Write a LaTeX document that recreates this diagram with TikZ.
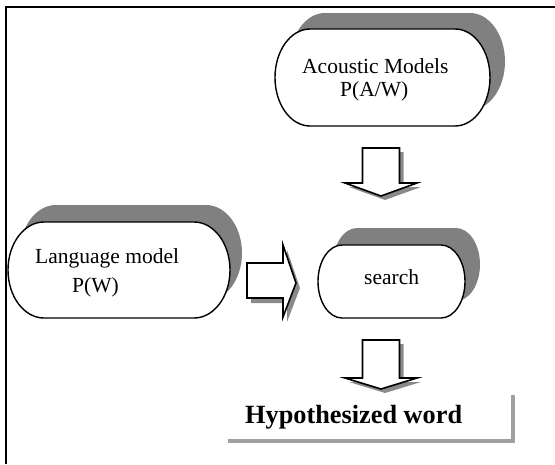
\documentclass[tikz,border=0pt]{standalone}
\usepackage{fontspec}
\setmainfont{Liberation Serif}
\definecolor{shadowgray}{HTML}{808080}
\definecolor{arrowshadow}{HTML}{8A8A8A}
\definecolor{boxgray}{HTML}{A0A0A0}
\tikzset{
  termline/.style={draw=black, line width=1.4, fill=white},
  blockline/.style={draw=black, line width=1.6, fill=white, line join=miter},
  labeltext/.style={inner sep=0, anchor=base west, font=\fontsize{21.5}{25}\selectfont},
  frameline/.style={line width=2},
}
% name, cx, cy(px down), w, h, rx, shadow dx, shadow dy(up)
\newcommand\termshape[8]{%
  \fill[shadowgray, shift={(#7,#8)}] ({#2-#4/2+#6},{-#3+#5/2}) -- ({#2+#4/2-#6},{-#3+#5/2})
     arc[start angle=90,end angle=-90,x radius=#6,y radius=#5/2] -- ({#2-#4/2+#6},{-#3-#5/2})
     arc[start angle=270,end angle=90,x radius=#6,y radius=#5/2] -- cycle;
  \path[termline] ({#2-#4/2+#6},{-#3+#5/2}) -- ({#2+#4/2-#6},{-#3+#5/2})
     arc[start angle=90,end angle=-90,x radius=#6,y radius=#5/2] -- ({#2-#4/2+#6},{-#3-#5/2})
     arc[start angle=270,end angle=90,x radius=#6,y radius=#5/2] -- cycle;
  \node[inner sep=0, minimum width=#4, minimum height=#5] (#1) at (#2,-#3) {};
}
% down block arrow: cx, top, headbase, tip
\newcommand\blockdown[4]{%
  \fill[arrowshadow, shift={(4,-4)}] ({#1-18.5},-#2) -- ({#1+18.5},-#2) -- ({#1+18.5},-#3) -- ({#1+36},-#3)
     -- (#1,-#4) -- ({#1-36},-#3) -- ({#1-18.5},-#3) -- cycle;
  \path[blockline] ({#1-18.5},-#2) -- ({#1+18.5},-#2) -- ({#1+18.5},-#3) -- ({#1+36},-#3)
     -- (#1,-#4) -- ({#1-36},-#3) -- ({#1-18.5},-#3) -- cycle;
}
\begin{document}
\begin{tikzpicture}[x=1pt,y=1pt]
\useasboundingbox (0,0) rectangle (555,-464);
% frame
\draw[frameline] (6,-464) -- (6,-7) -- (556,-7);

% acoustic models
\termshape{acoustic}{382.5}{77.5}{215}{97}{35}{15}{16}
\node[labeltext] (acT1) at (302,-73) {Acoustic Models};
\node[labeltext] (acT2) at (340,-96) {P(A/W)};

% language model
\termshape{language}{119}{270}{222}{96}{36}{12}{17}
\node[labeltext] (lmT1) at (35,-263) {Language model};
\node[labeltext] (lmT2) at (72,-292) {P(W)};

% search
\termshape{search}{391.5}{281.5}{147}{73}{24}{15}{17}
\node[labeltext] (srT) at (364,-284) {search};

% arrows
\blockdown{381}{148}{183}{196}
\blockdown{381}{340}{378}{389}
\fill[arrowshadow, shift={(4,-5)}] (247,-263) -- (283,-263) -- (283,-245) -- (296,-283) -- (283,-317) -- (283,-298) -- (247,-298) -- cycle;
\path[blockline] (247,-263) -- (283,-263) -- (283,-245) -- (296,-283) -- (283,-317) -- (283,-298) -- (247,-298) -- cycle;

% hypothesized word
\node[inner sep=0, anchor=base west, font=\fontsize{26.3}{30}\selectfont\bfseries] (hyp) at (245,-423) {Hypothesized word};
\draw[boxgray, line width=3.5] (228,-441) -- (513,-441) -- (513,-395);
\end{tikzpicture}
\end{document}
